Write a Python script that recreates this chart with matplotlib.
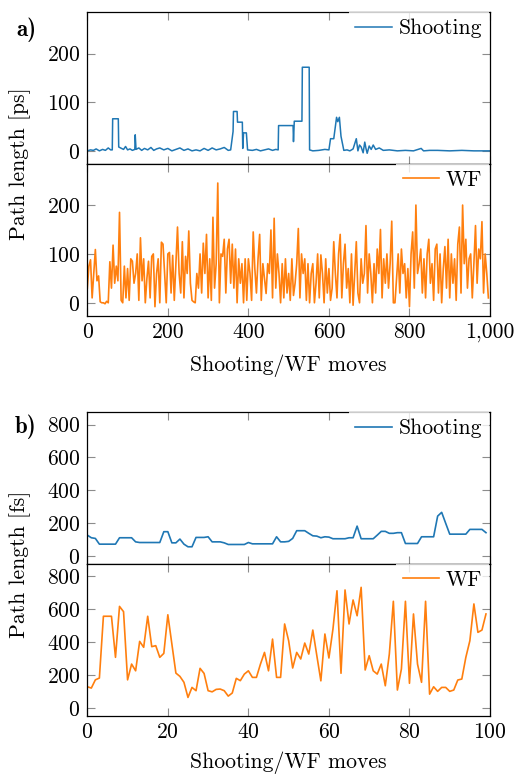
import matplotlib
matplotlib.use('Agg')
import matplotlib.pyplot as plt
import numpy as np

plt.rcParams['font.family'] = 'cmr10'
plt.rcParams['mathtext.fontset'] = 'cm'
plt.rcParams['axes.formatter.use_mathtext'] = True
plt.rcParams['font.size'] = 15.6

# ------------------------------------
#          - Data (read off) -
# ------------------------------------
# a) Shooting: vertices of the mostly step-like trace
shoot_a_x = [0, 8, 15, 22, 30, 38, 45, 52, 58, 62, 63, 77, 78, 85, 90, 95, 100, 106, 112, 118,
             119, 121, 128, 135, 142, 150, 158, 165, 172, 180, 190, 200, 210, 220, 230, 240,
             250, 260, 270, 280, 290, 300, 310, 320, 330, 340, 350, 356, 362, 363, 372, 373,
             385, 386, 388, 395, 398, 410, 420, 430, 440, 450, 460, 468, 474, 475, 511, 512,
             514, 533, 534, 551, 552, 560, 575, 590, 600, 604, 612, 619, 622, 626, 630, 637,
             645, 652, 660, 668, 672, 676, 680, 685, 689, 692, 695, 700, 705, 710, 716, 725,
             735, 750, 770, 790, 810, 829, 835, 850, 870, 900, 930, 960, 1000]
shoot_a_y = [0, 2, 1, 4, 0, 3, 1, 6, 2, 2, 66, 66, 8, 5, 3, 9, 2, 4, 1, 3,
             33, 3, 6, 1, 5, 2, 7, 1, 4, 6, 2, 5, 0, 3, 6, 1, 4, 0, 2, 0, 5, 1, 6, 2, 4, 7, 1,
             2, 40, 81, 81, 59, 59, 5, 37, 37, 2, 1, 3, 0, 2, 4, 1, 3, 2, 52, 52, 19, 61, 61,
             172, 172, 2, 0, 1, 3, 2, 25, 25, 69, 60, 69, 30, 1, 2, 0, 4, 25, 0, 12, 8, -4, 18,
             5, -5, 10, 3, 12, 3, 6, 1, 2, 0, 1, 0, 5, 0, 1, 1, 0, 1, 0, 0]

# a) WF: one value every 4 moves
wf_a_step = 4
wf_a_y = [30, 75, 88, 10, 60, 109, 45, 55, 2, 0,
          0, -2, 3, 0, 84, 30, 118, 40, 75, 45,
          185, 5, 0, 75, 10, 70, 5, 90, 85, 40,
          60, 100, 5, 133, 45, 90, 0, 50, 85, 10,
          95, 100, -8, 60, 90, 0, 124, 120, 60, 0,
          100, 103, 20, 97, 5, 80, 155, 60, 20, 125,
          10, 95, 60, 147, 40, 5, 2, 0, 60, 30,
          100, 20, 122, 60, 140, 10, 90, 5, 175, 30,
          80, 245, 0, 100, 95, 130, 20, 110, 130, 40,
          120, 30, 110, 0, 90, 40, 80, 0, 90, 5,
          90, 60, 5, 145, 70, 20, 90, 140, 5, 80,
          50, 19, 80, 60, 149, 10, 173, 30, 100, 60,
          0, 80, 10, 90, 20, 60, 5, 90, 15, 40,
          80, 152, 10, 100, 60, 90, 5, 80, 0, 60,
          80, 0, 40, 100, 10, 98, 60, 0, 90, 20,
          70, 5, 30, 125, 60, 10, 100, 140, 10, 80,
          120, 30, 70, 0, 100, -5, 60, 125, 20, 0,
          90, 40, 60, 158, 20, 100, 60, 0, 80, 20,
          110, 60, 150, 10, 90, 40, 100, 30, 80, 167,
          0, 0, 50, 100, 20, 110, 60, 80, 10, 70,
          -8, 100, 145, 30, 200, 60, 80, 110, 20, 90,
          10, 100, 130, 40, 80, 5, 110, 120, 20, 100,
          0, 70, 115, 30, 130, 10, 100, 40, 90, 5,
          120, 155, 20, 200, 80, 130, 30, 90, 100, 10,
          80, 158, 40, 110, 90, 166, 20, 100, 60, 10]

# b) 100 moves each
shoot_b_y = [126, 110, 106, 71, 71, 71, 71, 71, 110, 110,
             110, 110, 85, 81, 81, 81, 81, 81, 81, 147,
             147, 79, 79, 102, 71, 55, 55, 112, 112, 112,
             116, 85, 85, 85, 79, 69, 69, 69, 69, 69,
             81, 73, 73, 73, 73, 73, 73, 116, 85, 85,
             88, 106, 153, 153, 153, 137, 122, 120, 110, 116,
             114, 104, 104, 104, 104, 110, 110, 181, 104, 104,
             104, 104, 126, 149, 149, 137, 137, 141, 141, 75,
             75, 75, 75, 116, 116, 116, 116, 242, 265, 198,
             132, 132, 132, 132, 132, 161, 161, 161, 161, 141]
wf_b_y = [128, 120, 170, 181, 557, 557, 557, 307, 617, 585,
          170, 266, 225, 404, 368, 557, 372, 378, 307, 331,
          566, 388, 211, 191, 155, 63, 124, 104, 240, 209,
          104, 97, 112, 114, 104, 71, 90, 179, 165, 205,
          225, 185, 185, 266, 337, 225, 418, 185, 185, 510,
          408, 242, 337, 297, 394, 327, 473, 317, 164, 449,
          303, 479, 712, 210, 717, 510, 656, 560, 733, 230,
          317, 225, 205, 266, 134, 327, 648, 108, 236, 648,
          149, 571, 266, 155, 648, 83, 128, 100, 124, 124,
          100, 108, 169, 175, 307, 408, 632, 459, 473, 571]

xticks_a = [0, 200, 400, 600, 800, 1000]
xticklabels_a = ['0', '200', '400', '600', '800', '1,000']
yticks_a = [0, 100, 200]
xticks_b = [0, 20, 40, 60, 80, 100]
yticks_b = [0, 200, 400, 600, 800]

blue = '#1f77b4'
orange = '#ff7f0e'

# ------------------------------------
#          - Figure layout -
# ------------------------------------
W, H = 517, 776
fig = plt.figure(figsize=(W / 100, H / 100), dpi=100)


def box(x0, y_top, x1, y_bot):
    return [x0 / W, 1 - y_bot / H, (x1 - x0) / W, (y_bot - y_top) / H]


ax_a1 = fig.add_axes(box(87.3, 12.3, 490, 163.5))
ax_a2 = fig.add_axes(box(87.3, 163.5, 490, 315.5))
ax_b1 = fig.add_axes(box(87.3, 412.3, 490, 564))
ax_b2 = fig.add_axes(box(87.3, 564, 490, 716))

wf_a_x = np.arange(len(wf_a_y)) * wf_a_step
moves_b = np.arange(len(shoot_b_y))

ax_a1.plot(shoot_a_x, shoot_a_y, color=blue, lw=1.1, label='Shooting')
ax_a2.plot(wf_a_x, wf_a_y, color=orange, lw=1.2, label='WF')
ax_b1.plot(moves_b, shoot_b_y, color=blue, lw=1.2, label='Shooting')
ax_b2.plot(moves_b, wf_b_y, color=orange, lw=1.2, label='WF')

for ax in (ax_a1, ax_a2):
    ax.set_xlim(0, 1000)
    ax.set_ylim(-26, 285)
    ax.set_yticks(yticks_a)
    ax.set_xticks(xticks_a)
for ax in (ax_b1, ax_b2):
    ax.set_xlim(0, 100)
    ax.set_ylim(-50, 875)
    ax.set_yticks(yticks_b)
    ax.set_xticks(xticks_b)

for ax in (ax_a1, ax_a2, ax_b1, ax_b2):
    ax.tick_params(direction='in', top=True, right=True, length=6, width=0.8,
                   color='#8c8c8c', labelsize=15.6, pad=5)
    for sp in ax.spines.values():
        sp.set_linewidth(0.9)
    ax.legend(loc='upper right', bbox_to_anchor=(0.997, 1.0), borderaxespad=0,
              handlelength=1.7, handletextpad=0.3, borderpad=0.3,
              fancybox=False, edgecolor='none', facecolor='white', framealpha=0.8,
              fontsize=15.6)

ax_a1.tick_params(labelbottom=False)
ax_b1.tick_params(labelbottom=False)
ax_a2.set_xticklabels(xticklabels_a)

# labels
fig.text(20 / W, 1 - 164 / H, 'Path length [ps]', rotation=90, ha='center', va='center')
fig.text(20 / W, 1 - 564 / H, 'Path length [fs]', rotation=90, ha='center', va='center')
fig.text(288.6 / W, 1 - 366 / H, 'Shooting/WF moves', ha='center', va='center')
fig.text(288.6 / W, 1 - 763 / H, 'Shooting/WF moves', ha='center', va='center')
fig.text(26 / W, 1 - 30 / H, 'a)', family='cmb10', fontsize=16.5, ha='center', va='center')
fig.text(26 / W, 1 - 427 / H, 'b)', family='cmb10', fontsize=16.5, ha='center', va='center')

plt.savefig('out.png', dpi=100)
